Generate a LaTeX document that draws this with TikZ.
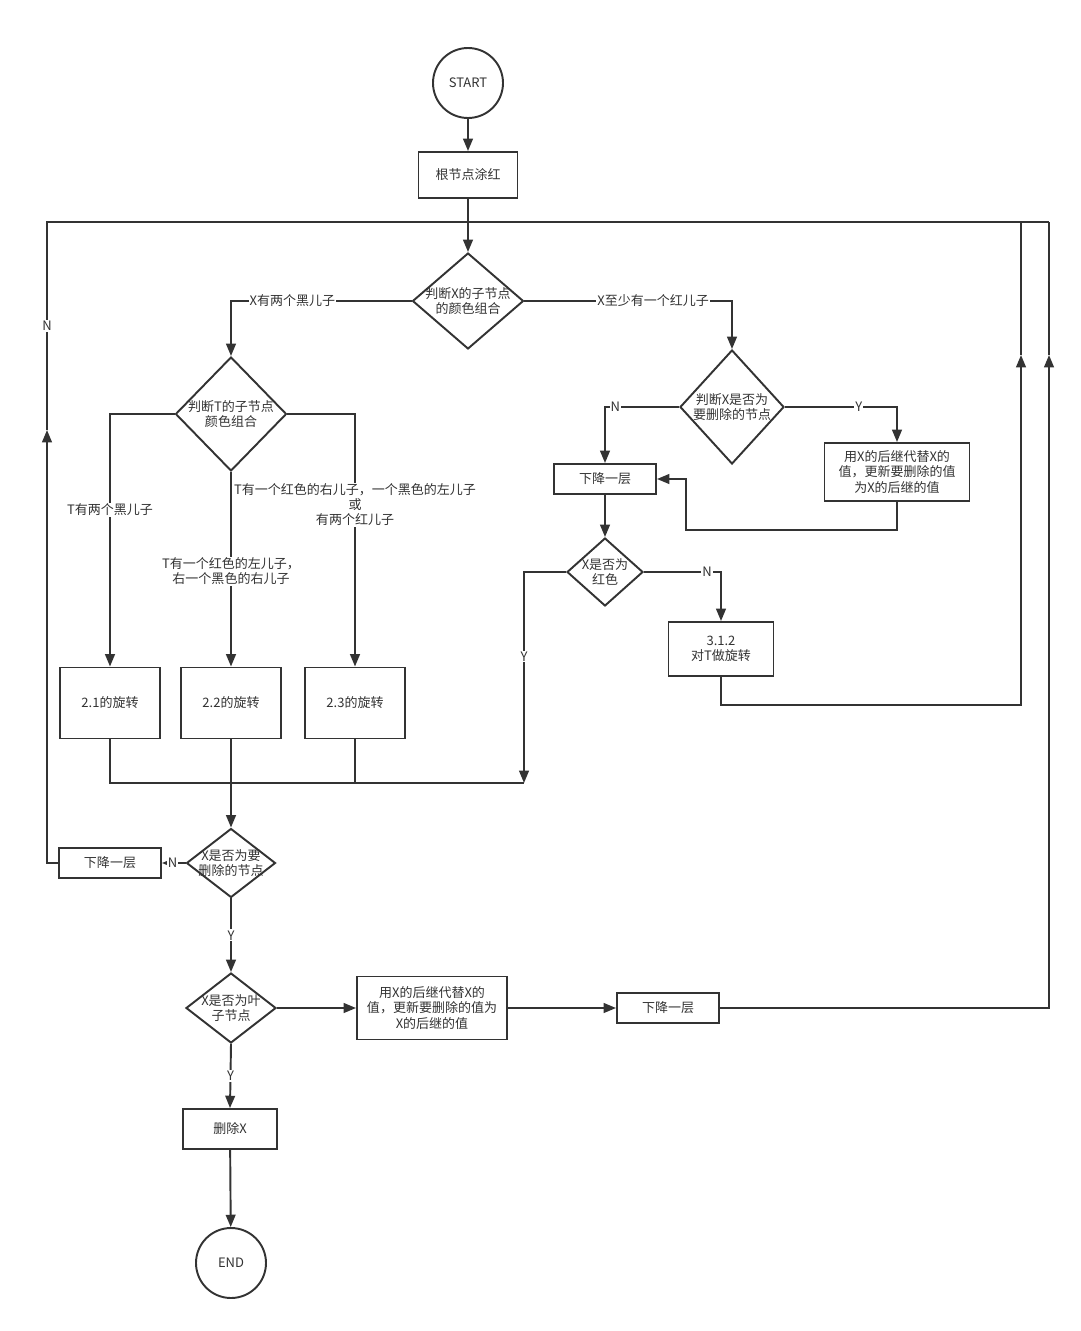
\documentclass[tikz,border=0pt]{standalone}
\usepackage{fontspec}
\setmainfont{Noto Sans CJK SC}
\usetikzlibrary{shapes.geometric,arrows.meta}
\definecolor{ink}{HTML}{333333}

\begin{document}
\begin{tikzpicture}[x=0.02cm, y=-0.02cm, line width=1.1pt, color=ink,
    every node/.style={font=\fontsize{7.4}{8.6}\selectfont, align=center},
    box/.style 2 args={draw, fill=white, minimum width=#1*0.02cm, minimum height=#2*0.02cm, inner sep=0pt},
    dia/.style 2 args={diamond, draw, minimum width=#1*0.02cm, minimum height=#2*0.02cm, inner sep=0pt},
    term/.style={circle, draw, minimum size=70*0.02cm, inner sep=0pt},
    lbl/.style={fill=white, inner sep=0.6pt},
    arr/.style={-{Triangle[length=7pt,width=5.5pt]}}]
  \useasboundingbox (0,0) rectangle (1081,1331);

  % main column
  \node[term] (start) at (468,83) {START};
  \node[box={99}{46}] (paint) at (468,175) {根节点涂红};
  \node[dia={111}{96}] (d1) at (468,301) {};
  \node (d1txt) at (d1) {判断X的子节点\\的颜色组合};

  % left side: T's children
  \node[dia={111}{114}] (d2) at (231,414) {};
  \node (d2txt) at (d2) {判断T的子节点\\颜色组合};
  \foreach \n/\x in {1/110,2/231,3/355} {
    \node[box={100}{71}] (b2\n) at (\x,703) {2.\n{}的旋转};
  }

  % right side: X is the node to delete?
  \node[dia={104}{114}] (d3) at (732,407) {};
  \node (d3txt) at (d3) {判断X是否为\\要删除的节点};
  \node[box={102}{30}] (dn1) at (605,479) {下降一层};
  \node[box={145}{58}] (succ1) at (897,472) {用X的后继代替X的\\值，更新要删除的值\\为X的后继的值};
  \node[dia={76}{68}] (d6) at (605,572) {};
  \node (d6txt) at (d6) {X是否为\\红色};
  \node[box={105}{54}] (b312) at (721,649) {3.1.2\\对T做旋转};

  % lower column
  \node[dia={89}{69}] (d4) at (231,863) {};
  \node (d4txt) at (d4) {X是否为要\\删除的节点};
  \node[box={102}{30}] (dn2) at (110,863) {下降一层};
  \node[dia={90}{70}] (d5) at (231,1008) {};
  \node (d5txt) at (d5) {X是否为叶\\子节点};
  \node[box={150}{63}] (succ2) at (432,1008) {用X的后继代替X的\\值，更新要删除的值为\\X的后继的值};
  \node[box={102}{30}] (dn3) at (668,1008) {下降一层};
  \node[box={94}{40}] (del) at (230,1129) {删除X};
  \node[term] (end) at (231,1263) {END};

  % loop-back points
  \coordinate (tl) at (47,222);
  \coordinate (tm) at (1021,222);
  \coordinate (tr) at (1049,222);
  \coordinate (upl) at (47,430);
  \coordinate (upr1) at (1021,355);
  \coordinate (upr2) at (1049,355);
  \coordinate (join) at (524,783);

  % connectors
  \draw[arr] (start) -- (paint);
  \draw[arr] (paint) -- (d1);
  \draw[arr] (d1.west) -| node[lbl, pos=0.33] (l1) {X有两个黑儿子} (d2.north);
  \draw[arr] (d1.east) -| node[lbl, pos=0.31] (l2) {X至少有一个红儿子} (d3.north);
  \draw[arr] (d2.west) -| node[lbl, pos=0.69] (l3) {T有两个黑儿子} (b21.north);
  \draw[arr] (d2.east) -| node[lbl, pos=0.68] (l5) {T有一个红色的右儿子，一个黑色的左儿子\\或\\有两个红儿子} (b23.north);
  \draw[arr] (d2.south) -- node[lbl, pos=0.51] (l4) {T有一个红色的左儿子，\\右一个黑色的右儿子} (b22.north);

  \draw[arr] (d3.west) -| node[lbl, pos=0.43] (l6) {N} (dn1.north);
  \draw[arr] (d3.east) -| node[lbl, pos=0.33] (l7) {Y} (succ1.north);
  \draw[arr] (succ1.south) |- (686,530) |- (dn1.east);
  \draw[arr] (dn1) -- (d6);
  \draw[arr] (d6.east) -| node[lbl, pos=0.41] (l8) {N} (b312.north);
  \draw[arr] (d6.west) -| node[lbl, pos=0.7] (l9) {Y} (join);

  \draw (b21.south) |- (join);
  \draw (b23.south) -- (b23.south |- join);
  \draw[arr] (b22.south) -- (d4.north);

  \draw[arr] (d4.west) -- node[lbl, pos=0.55] (l10) {N} (dn2.east);
  \draw[arr] (dn2.west) -| (upl);
  \draw (upl) -- node[lbl] (l11) {N} (tl) -- (tr);
  \draw[arr] (b312.south) |- (1021,705) -- (upr1);
  \draw (upr1) -- (tm);
  \draw[arr] (dn3.east) -| (upr2);
  \draw (upr2) -- (tr);

  \draw[arr] (d4.south) -- node[lbl] (l12) {Y} (d5.north);
  \draw[arr] (d5.east) -- (succ2.west);
  \draw[arr] (succ2.east) -- (dn3.west);
  \draw[arr] (d5.south) -- node[lbl] (l13) {Y} (del.north);
  \draw[arr] (del) -- (end);
\end{tikzpicture}
\end{document}
